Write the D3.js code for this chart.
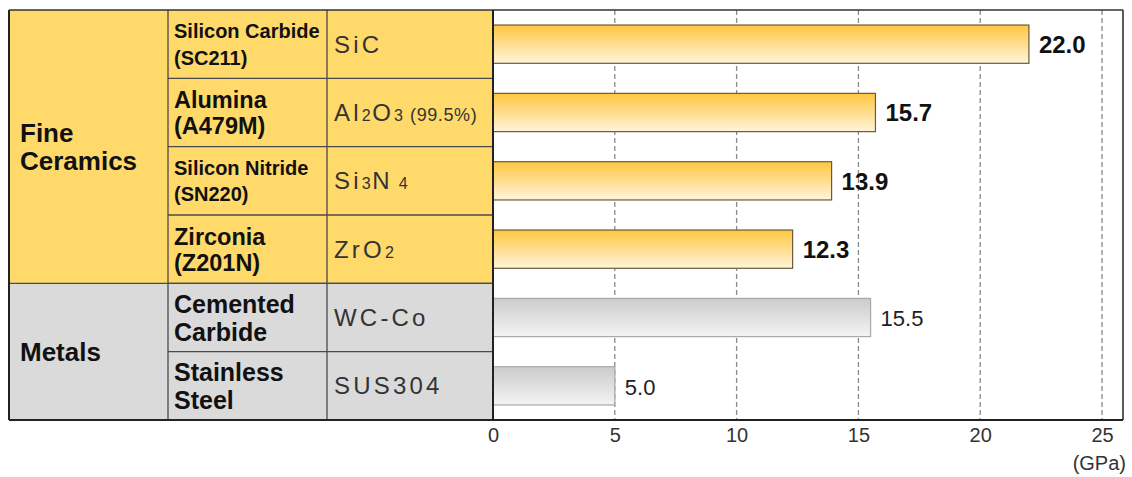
<!DOCTYPE html>
<html>
<head>
<meta charset="utf-8">
<script src="https://cdn.jsdelivr.net/npm/d3@7"></script>
<style>
  html, body { margin: 0; padding: 0; background: #fff; }
  svg { display: block; font-family: "Liberation Sans", Arial, sans-serif; }
</style>
</head>
<body>
<svg id="chart" width="1132" height="477"></svg>
<script>
// data
var groups = ['Fine Ceramics', 'Metals']
var groupLabels = [['Fine', 'Ceramics'], ['Metals']]
var rowGroup = ['Fine Ceramics', 'Fine Ceramics', 'Fine Ceramics', 'Fine Ceramics', 'Metals', 'Metals']
var materials = [
  ['Silicon Carbide', '(SC211)'],
  ['Alumina', '(A479M)'],
  ['Silicon Nitride', '(SN220)'],
  ['Zirconia', '(Z201N)'],
  ['Cemented', 'Carbide'],
  ['Stainless', 'Steel']
]
// formula pieces: [text, kind] n = normal, s = subscript, p = note
var formulas = [
  [['SiC', 'n']],
  [['Al', 'n'], ['2', 's'], ['O', 'n'], ['3', 's'], [' (99.5%)', 'p']],
  [['Si', 'n'], ['3', 's'], ['N', 'n'], [' 4', 's']],
  [['ZrO', 'n'], ['2', 's']],
  [['WC-Co', 'n']],
  [['SUS304', 'n']]
]
var values = [22.0, 15.7, 13.9, 12.3, 15.5, 5.0]
var xTicks = [0, 5, 10, 15, 20, 25]
var unitLabel = '(GPa)'

// layout / style
var yTop = 10, yBottom = 420
var colX = [9, 168, 327, 493]
var chartRight = 1123
var nameSize = [20, 23.5, 20, 23.5, 25, 25]
var nameLine = [27, 26, 26, 26, 28, 28]
var fills = { 'Fine Ceramics': '#ffda6a', 'Metals': '#dadada' }
var lineColor = '#4a4a4a'

var svg = d3.select('#chart')

var defs = svg.append('defs')
function grad (id, c1, c2) {
  var g = defs.append('linearGradient').attr('id', id)
    .attr('x1', 0).attr('y1', 0).attr('x2', 0).attr('y2', 1)
  g.append('stop').attr('offset', '0%').attr('stop-color', c1)
  g.append('stop').attr('offset', '100%').attr('stop-color', c2)
}
grad('gCer', '#ffc640', '#fff4dc')
grad('gMet', '#cbcbcb', '#f4f4f4')

var idx = d3.range(values.length)

var rowY = d3.scaleBand().domain(idx).range([yTop, yBottom])
var barY = d3.scaleBand().domain(idx).range([yTop, yBottom])
  .paddingInner(0.44).paddingOuter(0.22)
var x = d3.scaleLinear().domain([0, 25]).range([colX[3], 1102])

// group column extents
var groupExtent = groups.map(function (g) {
  var rows = idx.filter(function (i) { return rowGroup[i] === g })
  return [rowY(rows[0]), rowY(rows[rows.length - 1]) + rowY.bandwidth()]
})

// table backgrounds
var table = svg.append('g')
table.selectAll('rect.grp').data(groups).enter().append('rect')
  .attr('x', colX[0]).attr('y', function (d, i) { return groupExtent[i][0] })
  .attr('width', colX[3] - colX[0])
  .attr('height', function (d, i) { return groupExtent[i][1] - groupExtent[i][0] })
  .attr('fill', function (d) { return fills[d] })

// row lines in columns 2 and 3
table.selectAll('line.row').data(idx.slice(1)).enter().append('line')
  .attr('x1', colX[1]).attr('x2', colX[3])
  .attr('y1', function (i) { return rowY(i) }).attr('y2', function (i) { return rowY(i) })
  .attr('stroke', lineColor).attr('stroke-width', 1.3)
// group separator across whole table
table.selectAll('line.gsep').data(groupExtent.slice(1)).enter().append('line')
  .attr('x1', colX[0]).attr('x2', colX[3])
  .attr('y1', function (d) { return d[0] }).attr('y2', function (d) { return d[0] })
  .attr('stroke', lineColor).attr('stroke-width', 1.3)
// column lines
table.selectAll('line.col').data(colX.slice(1, 3)).enter().append('line')
  .attr('x1', function (d) { return d }).attr('x2', function (d) { return d })
  .attr('y1', yTop).attr('y2', yBottom)
  .attr('stroke', lineColor).attr('stroke-width', 1.3)

// group labels
groupLabels.forEach(function (lines, gi) {
  var cy = (groupExtent[gi][0] + groupExtent[gi][1]) / 2
  var fs = 26, lh = 27.5
  var t = table.append('text').attr('font-size', fs).attr('font-weight', 'bold').attr('fill', '#111')
  lines.forEach(function (l, li) {
    t.append('tspan').attr('x', colX[0] + 11)
      .attr('y', cy + (li - (lines.length - 1) / 2) * lh + 0.36 * fs)
      .text(l)
  })
})

// material names
idx.forEach(function (i) {
  var cy = rowY(i) + rowY.bandwidth() / 2
  var fs = nameSize[i], lh = nameLine[i]
  var t = table.append('text').attr('font-size', fs).attr('font-weight', 'bold').attr('fill', '#111')
  materials[i].forEach(function (l, li) {
    t.append('tspan').attr('x', colX[1] + 6)
      .attr('y', cy + (li - 0.5) * lh + 0.36 * fs)
      .text(l)
  })
})

// formulas
idx.forEach(function (i) {
  var cy = rowY(i) + rowY.bandwidth() / 2
  var t = table.append('text').attr('x', colX[2] + 7).attr('y', cy + 0.36 * 24)
    .attr('fill', '#333').attr('font-size', 24)
  formulas[i].forEach(function (p) {
    var s = t.append('tspan').text(p[0])
    if (p[1] === 'n') s.attr('font-size', 24).attr('letter-spacing', 3.2)
    if (p[1] === 's') s.attr('font-size', 16).attr('letter-spacing', 1.5)
    if (p[1] === 'p') s.attr('font-size', 18).attr('letter-spacing', 0.6)
  })
})

// gridlines
svg.append('g').selectAll('line').data(xTicks.slice(1)).enter().append('line')
  .attr('x1', function (d) { return x(d) }).attr('x2', function (d) { return x(d) })
  .attr('y1', yTop).attr('y2', yBottom)
  .attr('stroke', '#8a8a8a').attr('stroke-width', 1.3).attr('stroke-dasharray', '5,3')

// bars
var bars = svg.append('g')
bars.selectAll('rect').data(idx).enter().append('rect')
  .attr('x', x(0))
  .attr('y', function (i) { return barY(i) })
  .attr('width', function (i) { return x(values[i]) - x(0) })
  .attr('height', barY.bandwidth())
  .attr('fill', function (i) { return rowGroup[i] === 'Metals' ? 'url(#gMet)' : 'url(#gCer)' })
  .attr('stroke', function (i) { return rowGroup[i] === 'Metals' ? '#a8a8a8' : '#6a5a3a' })
  .attr('stroke-width', 1.2)

// value labels
bars.selectAll('text').data(idx).enter().append('text')
  .attr('x', function (i) { return x(values[i]) + 10 })
  .attr('y', function (i) { return barY(i) + barY.bandwidth() / 2 + 0.38 * 23 })
  .attr('font-size', function (i) { return rowGroup[i] === 'Metals' ? 22 : 24 })
  .attr('font-weight', function (i) { return rowGroup[i] === 'Metals' ? 'normal' : 'bold' })
  .attr('fill', function (i) { return rowGroup[i] === 'Metals' ? '#222' : '#111' })
  .text(function (i) { return values[i].toFixed(1) })

// frame
svg.append('line').attr('x1', colX[0]).attr('x2', chartRight).attr('y1', yTop).attr('y2', yTop)
  .attr('stroke', '#333').attr('stroke-width', 1.6)
svg.append('line').attr('x1', chartRight).attr('x2', chartRight).attr('y1', yTop).attr('y2', yBottom)
  .attr('stroke', '#333').attr('stroke-width', 1.6)
svg.append('line').attr('x1', colX[0]).attr('x2', colX[0]).attr('y1', yTop).attr('y2', yBottom)
  .attr('stroke', '#222').attr('stroke-width', 2)
svg.append('line').attr('x1', colX[3]).attr('x2', colX[3]).attr('y1', yTop).attr('y2', yBottom)
  .attr('stroke', '#222').attr('stroke-width', 2)
svg.append('line').attr('x1', colX[0]).attr('x2', chartRight).attr('y1', yBottom).attr('y2', yBottom)
  .attr('stroke', '#222').attr('stroke-width', 2.2)

// x axis
var axis = svg.append('g').attr('transform', 'translate(0,' + yBottom + ')')
  .call(d3.axisBottom(x).tickValues(xTicks).tickSize(0).tickPadding(8).tickFormat(d3.format('d')))
axis.select('.domain').remove()
axis.selectAll('text').attr('font-size', 20).attr('fill', '#333')
  .attr('font-family', '"Liberation Sans", Arial, sans-serif')

svg.append('text').attr('x', 1126).attr('y', 470).attr('text-anchor', 'end')
  .attr('font-size', 20).attr('fill', '#333').text(unitLabel)
</script>
</body>
</html>
